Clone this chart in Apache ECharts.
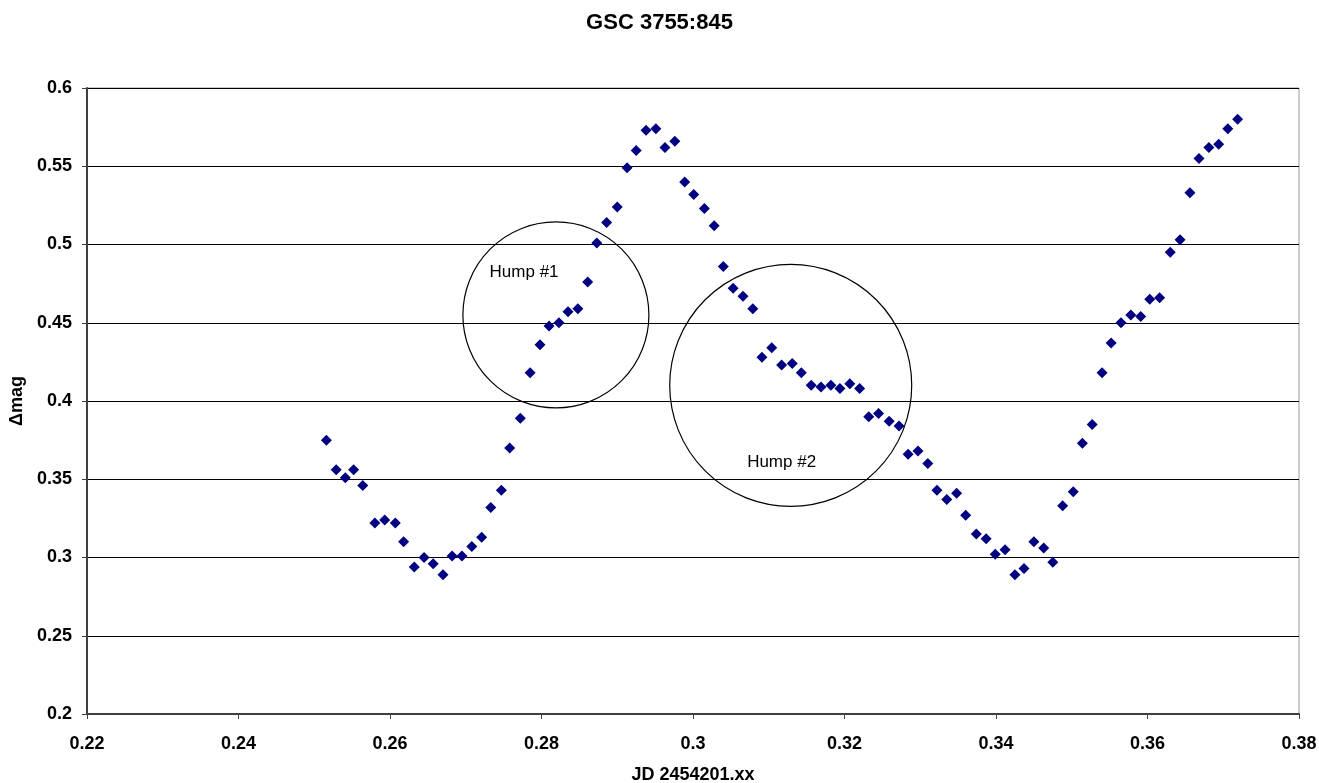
<!DOCTYPE html>
<html>
<head>
<meta charset="utf-8">
<script src="https://cdn.jsdelivr.net/npm/echarts@6/dist/echarts.min.js"></script>
<style>
  html, body { margin: 0; padding: 0; background: #fff; }
  #chart { width: 1319px; height: 783px; }
</style>
</head>
<body>
<div id="chart"></div>
<script>
// JD offset (days)
const jd = [
  0.2516, 0.2529, 0.2541, 0.2552, 0.2564, 0.2580, 0.2593, 0.2607, 0.2618, 0.2632,
  0.2645, 0.2657, 0.2670, 0.2682, 0.2695, 0.2708, 0.2721, 0.2733, 0.2747, 0.2758,
  0.2772, 0.2785, 0.2798, 0.2810, 0.2823, 0.2835, 0.2848, 0.2861, 0.2873, 0.2886,
  0.2900, 0.2913, 0.2925, 0.2938, 0.2951, 0.2963, 0.2976, 0.2989, 0.3001, 0.3015,
  0.3028, 0.3040, 0.3053, 0.3066, 0.3079, 0.3091, 0.3104, 0.3117, 0.3131, 0.3143,
  0.3156, 0.3169, 0.3182, 0.3194, 0.3207, 0.3220, 0.3232, 0.3245, 0.3259, 0.3272,
  0.3284, 0.3297, 0.3310, 0.3322, 0.3335, 0.3348, 0.3360, 0.3374, 0.3387, 0.3399,
  0.3412, 0.3425, 0.3437, 0.3450, 0.3463, 0.3475, 0.3488, 0.3502, 0.3514, 0.3527,
  0.3540, 0.3552, 0.3565, 0.3578, 0.3591, 0.3603, 0.3616, 0.3630, 0.3643, 0.3656,
  0.3668, 0.3681, 0.3694, 0.3706, 0.3719
]
// delta magnitude
const dmag = [
  0.375, 0.356, 0.351, 0.356, 0.346, 0.322, 0.324, 0.322, 0.310, 0.294,
  0.300, 0.296, 0.289, 0.301, 0.301, 0.307, 0.313, 0.332, 0.343, 0.370,
  0.389, 0.418, 0.436, 0.448, 0.450, 0.457, 0.459, 0.476, 0.501, 0.514,
  0.524, 0.549, 0.560, 0.573, 0.574, 0.562, 0.566, 0.540, 0.532, 0.523,
  0.512, 0.486, 0.472, 0.467, 0.459, 0.428, 0.434, 0.423, 0.424, 0.418,
  0.410, 0.409, 0.410, 0.408, 0.411, 0.408, 0.390, 0.392, 0.387, 0.384,
  0.366, 0.368, 0.360, 0.343, 0.337, 0.341, 0.327, 0.315, 0.312, 0.302,
  0.305, 0.289, 0.293, 0.310, 0.306, 0.297, 0.333, 0.342, 0.373, 0.385,
  0.418, 0.437, 0.450, 0.455, 0.454, 0.465, 0.466, 0.495, 0.503, 0.533,
  0.555, 0.562, 0.564, 0.574, 0.580
]
// annotation circles: centre (data units) and radius (px), label position (data units)
const humpNames = ['Hump #1', 'Hump #2']
const humpCentres = [[0.2819, 0.455], [0.3129, 0.410]]
const humpRadius = [93, 121]
const humpLabels = [[0.2777, 0.482], [0.3117, 0.361]]

const font = 'Liberation Sans, Arial, sans-serif'
const chart = echarts.init(document.getElementById('chart'))

const option = {
  backgroundColor: '#fff',
  animation: false,
  title: {
    text: 'GSC 3755:845',
    left: 'center',
    top: 7,
    textStyle: { fontFamily: font, fontSize: 22, fontWeight: 'bold', color: '#000' }
  },
  grid: {
    left: 87,
    right: 20,
    top: 88,
    bottom: 69,
    containLabel: false,
    outerBoundsMode: 'none',
    show: true,
    borderColor: '#999',
    borderWidth: 1
  },
  xAxis: {
    type: 'value',
    min: 0.22,
    max: 0.38,
    interval: 0.02,
    name: 'JD 2454201.xx',
    nameLocation: 'middle',
    nameGap: 52,
    nameTextStyle: { fontFamily: font, fontSize: 18, fontWeight: 'bold', color: '#000' },
    axisLine: { lineStyle: { color: '#404040', width: 2 } },
    axisTick: { show: true, length: 5, lineStyle: { color: '#404040' } },
    axisLabel: {
      margin: 21,
      fontFamily: font, fontSize: 18, fontWeight: 'bold', color: '#000',
      formatter: v => String(parseFloat(v.toFixed(2)))
    },
    splitLine: { show: false }
  },
  yAxis: {
    type: 'value',
    min: 0.2,
    max: 0.6,
    interval: 0.05,
    name: 'Δmag',
    nameLocation: 'middle',
    nameGap: 60,
    nameRotate: 90,
    nameTextStyle: { fontFamily: font, fontSize: 18, fontWeight: 'bold', color: '#000' },
    axisLine: { show: true, lineStyle: { color: '#404040', width: 2 } },
    axisTick: { show: true, length: 5, lineStyle: { color: '#404040' } },
    axisLabel: {
      margin: 15,
      fontFamily: font, fontSize: 18, fontWeight: 'bold', color: '#000',
      formatter: v => String(parseFloat(v.toFixed(2)))
    },
    splitLine: { show: true, lineStyle: { color: '#000', width: 1 } }
  },
  series: [{
    type: 'scatter',
    symbol: 'diamond',
    symbolSize: 11,
    itemStyle: { color: '#000080', opacity: 1 },
    data: jd.map((x, i) => [x, dmag[i]])
  }]
}

chart.setOption(option)

// circles and labels placed through the axes' scales
function drawHumps () {
  const graphic = []
  humpCentres.forEach((c, i) => {
    const p = chart.convertToPixel({ gridIndex: 0 }, c)
    graphic.push({
      type: 'circle',
      shape: { cx: p[0], cy: p[1], r: humpRadius[i] },
      style: { fill: 'none', stroke: '#000', lineWidth: 1.2 },
      z: 1
    })
    const t = chart.convertToPixel({ gridIndex: 0 }, humpLabels[i])
    graphic.push({
      type: 'text',
      x: t[0],
      y: t[1],
      style: {
        text: humpNames[i],
        fontFamily: font,
        fontSize: 17,
        fill: '#000',
        align: 'center',
        verticalAlign: 'middle'
      },
      z: 1
    })
  })
  chart.setOption({ graphic })
}
drawHumps()
</script>
</body>
</html>
